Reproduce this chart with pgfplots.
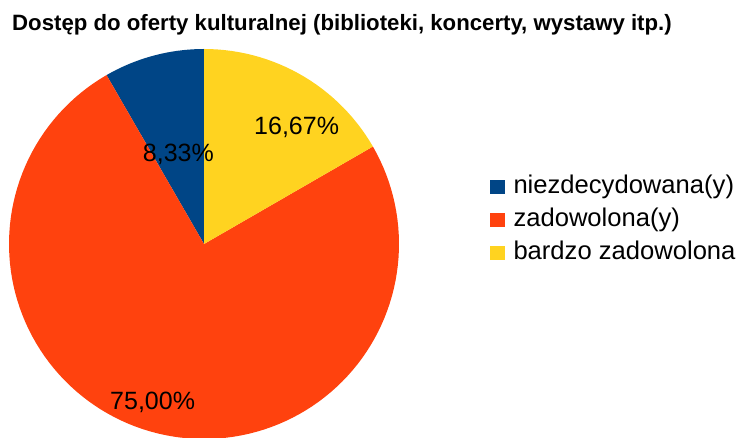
\documentclass[border=0pt]{standalone}
\usepackage{fontspec}
\setmainfont{Liberation Sans}
\usepackage{pgfplots}
\pgfplotsset{compat=1.18}
\definecolor{cBlue}{HTML}{004586}
\definecolor{cRed}{HTML}{FF420E}
\definecolor{cYellow}{HTML}{FFD320}
\begin{document}
\begin{tikzpicture}
\useasboundingbox (0,0) rectangle (741pt,438pt);
% values (percent)
\def\vNiez{8.33}
\def\vZad{75.00}
\def\vBardzo{16.67}
\def\cx{204}\def\cy{194}\def\r{195}
\pgfmathsetmacro\aA{90-3.6*\vBardzo}
\pgfmathsetmacro\aB{\aA-3.6*\vZad}
\pgfmathsetmacro\aC{\aB-3.6*\vNiez}
\begin{axis}[
  at={(0,0)}, anchor=south west,
  width=741pt, height=438pt, scale only axis,
  xmin=0, xmax=741, ymin=0, ymax=438,
  hide axis, clip=false,
  legend image code/.code={\fill[#1] (0pt,-7pt) rectangle (15pt,7.5pt);},
  legend style={at={(axis cs:490,262)}, anchor=north west, draw=none, fill=none,
    inner sep=0pt, outer sep=0pt, row sep=10pt,
    font=\fontsize{25.6}{30}\selectfont,
    nodes={inner sep=0pt, text height=18pt, text depth=5pt},
    /tikz/every odd column/.append style={column sep=8.5pt}},
  legend cell align=left,
]
\addplot[draw=none, fill=cBlue, domain=\aC:\aB, samples=20]
  ({\cx+\r*cos(x)},{\cy+\r*sin(x)}) -- (\cx,\cy) -- cycle;
\addlegendentry{niezdecydowana(y)}
\addplot[draw=none, fill=cRed, domain=\aB:\aA, samples=120]
  ({\cx+\r*cos(x)},{\cy+\r*sin(x)}) -- (\cx,\cy) -- cycle;
\addlegendentry{zadowolona(y)}
\addplot[draw=none, fill=cYellow, domain=\aA:90, samples=30]
  ({\cx+\r*cos(x)},{\cy+\r*sin(x)}) -- (\cx,\cy) -- cycle;
\addlegendentry{bardzo zadowolona}
\node[anchor=base west, inner sep=0pt, font=\fontsize{25}{30}\selectfont] at (axis cs:142.7,276.3) {8,33\%};
\node[anchor=base west, inner sep=0pt, font=\fontsize{25}{30}\selectfont] at (axis cs:254,303.7) {16,67\%};
\node[anchor=base west, inner sep=0pt, font=\fontsize{25}{30}\selectfont] at (axis cs:110,28) {75,00\%};
\node[anchor=base west, inner sep=0pt, font=\fontsize{22.2}{26}\selectfont\bfseries] at (axis cs:12,407) {Dostęp do oferty kulturalnej (biblioteki, koncerty, wystawy itp.)};
\end{axis}
\end{tikzpicture}
\end{document}
